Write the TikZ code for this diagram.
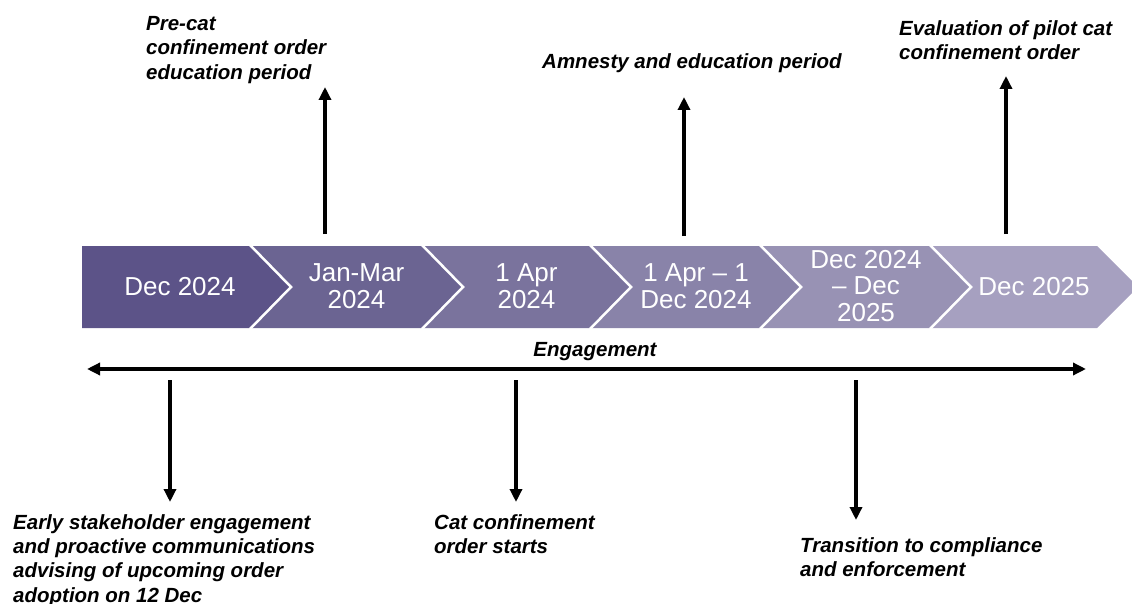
\documentclass[tikz,border=0pt]{standalone}
\usepackage{fontspec}
\setmainfont{Liberation Sans}
\usetikzlibrary{arrows.meta}
\definecolor{chA}{HTML}{5C5388}
\definecolor{chB}{HTML}{6B6492}
\definecolor{chC}{HTML}{7A739D}
\definecolor{chD}{HTML}{8983A9}
\definecolor{chE}{HTML}{9892B4}
\definecolor{chF}{HTML}{A6A0C0}
\tikzset{
  chevtext/.style={text=white, align=center, inner sep=0pt,
    font=\fontsize{26}{26.5}\selectfont},
  label/.style={anchor=north west, align=left, inner sep=0pt,
    font=\fontsize{20.5}{24.4}\selectfont\bfseries\itshape},
  arr/.style={line width=3.4pt, -{Triangle[length=13pt,width=12pt]}},
  darr/.style={line width=3.4pt, {Triangle[length=13pt,width=12pt]}-{Triangle[length=13pt,width=12pt]}},
  sep/.style={draw=white, line width=2.5pt},
}
\begin{document}
\begin{tikzpicture}[x=1pt,y=-1pt]
\useasboundingbox (0,0) rectangle (1132,604);
% chevrons
\fill[chA] (82,246) -- (250,246) -- (291,287) -- (250,328) -- (82,328) -- cycle;
\fill[chB] (250,246) -- (422,246) -- (463,287) -- (422,328) -- (250,328) -- (291,287) -- cycle;
\fill[chC] (422,246) -- (590,246) -- (631,287) -- (590,328) -- (422,328) -- (463,287) -- cycle;
\fill[chD] (590,246) -- (760,246) -- (801,287) -- (760,328) -- (590,328) -- (631,287) -- cycle;
\fill[chE] (760,246) -- (930,246) -- (971,287) -- (930,328) -- (760,328) -- (801,287) -- cycle;
\fill[chF] (930,246) -- (1097,246) -- (1138,287) -- (1097,328) -- (930,328) -- (971,287) -- cycle;
\foreach \b in {250,422,590,760,930}
  \draw[sep] (\b,245) -- (\b+41,287) -- (\b,329);
% chevron texts
\node[chevtext] (t1) at (180,287) {Dec 2024};
\node[chevtext] (t2) at (356.5,286) {Jan-Mar\\2024};
\node[chevtext] (t3) at (526.5,286) {1 Apr\\2024};
\node[chevtext] (t4) at (696,286) {1 Apr -- 1\\Dec 2024};
\node[chevtext] (t5) at (866,286) {Dec 2024\\-- Dec\\2025};
\node[chevtext] (t6) at (1034,287) {Dec 2025};
% top labels
\node[label] (l1) at (146,16) {Pre-cat\\confinement order\\education period};
\node[label] (l2) at (542,53) {Amnesty and education period};
\node[label] (l3) at (899,20) {Evaluation of pilot cat\\confinement order};
% bottom labels
\node[label] (b1) at (13,514) {Early stakeholder engagement\\and proactive communications\\advising of upcoming order\\adoption on 12 Dec};
\node[label] (b2) at (434,514) {Cat confinement\\order starts};
\node[label] (b3) at (800,537) {Transition to compliance\\and enforcement};
\node[font=\fontsize{20.5}{24}\selectfont\bfseries\itshape, anchor=base, inner sep=0pt] (eng) at (595,356) {Engagement};
% arrow end points
\coordinate (u1s) at (325,234); \coordinate (u1e) at (325,87);
\coordinate (u2s) at (684,236); \coordinate (u2e) at (684,97);
\coordinate (u3s) at (1006,234); \coordinate (u3e) at (1006,76);
\coordinate (d1s) at (170,380); \coordinate (d1e) at (170,502);
\coordinate (d2s) at (516,380); \coordinate (d2e) at (516,502);
\coordinate (d3s) at (856,380); \coordinate (d3e) at (856,520);
\coordinate (hl) at (87,369); \coordinate (hr) at (1086,369);
\draw[arr] (u1s) -- (u1e);
\draw[arr] (u2s) -- (u2e);
\draw[arr] (u3s) -- (u3e);
\draw[arr] (d1s) -- (d1e);
\draw[arr] (d2s) -- (d2e);
\draw[arr] (d3s) -- (d3e);
\draw[darr] (hl) -- (hr);
\end{tikzpicture}
\end{document}
